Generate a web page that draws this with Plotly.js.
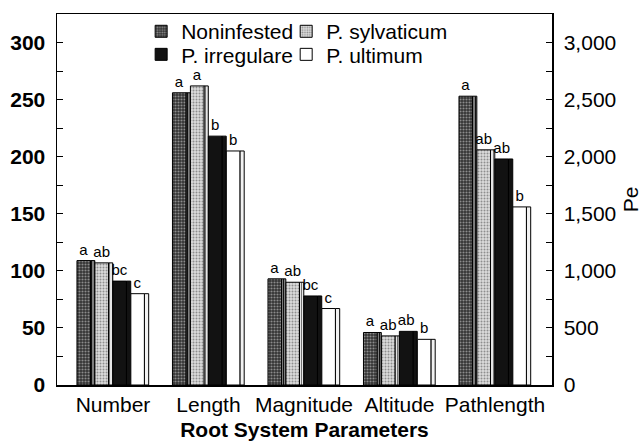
<!DOCTYPE html>
<html>
<head>
<meta charset="utf-8">
<script src="https://cdn.plot.ly/plotly-3.0.1.min.js"></script>
<style>html,body{margin:0;padding:0;background:#fff;}#chart{width:642px;height:442px;}</style>
</head>
<body>
<div id="chart"></div>
<script>
const categories = ['Number', 'Length', 'Magnitude', 'Altitude', 'Pathlength'];
const seriesNames = ['Noninfested', 'P. sylvaticum', 'P. irregulare', 'P. ultimum'];
// first four categories on left axis; Pathlength on right axis (Pe)
const noninfested = [109, 256, 93, 46, 2530];
const sylvaticum  = [107, 262, 90, 43, 2060];
const irregulare  = [91, 218, 78, 47, 1980];
const ultimum     = [80, 205, 67, 40, 1560];
const lettersNon = ['a', 'a', 'a', 'a', 'a'];
const lettersSyl = ['ab', 'a', 'ab', 'ab', 'ab'];
const lettersIrr = ['bc', 'b', 'bc', 'ab', 'ab'];
const lettersUlt = ['c', 'b', 'c', 'b', 'b'];
const leftTicks = [0, 50, 100, 150, 200, 250, 300];
const rightTicks = [0, 500, 1000, 1500, 2000, 2500, 3000];
const rightTickText = ['0', '500', '1,000', '1,500', '2,000', '2,500', '3,000'];

const values = [noninfested, sylvaticum, irregulare, ultimum];
const letters = [lettersNon, lettersSyl, lettersIrr, lettersUlt];
const legendOf = ['legend', 'legend2', 'legend3', 'legend4'];

const frontStyle = [
  {color: '#3c3c3c', pattern: {shape: '.', fgcolor: '#8c8c8c', bgcolor: '#333333', size: 3, solidity: 0.4}},
  {color: '#d6d6d6', pattern: {shape: '.', fgcolor: '#8e8e8e', bgcolor: '#dcdcdc', size: 3, solidity: 0.35}},
  {color: '#121212'},
  {color: '#ffffff'}
];
const sideStyle = [
  {color: '#444', pattern: {shape: '|', fgcolor: '#111', bgcolor: '#8a8a8a', size: 3, solidity: 0.4}},
  {color: '#bbb', pattern: {shape: '|', fgcolor: '#666', bgcolor: '#e6e6e6', size: 3, solidity: 0.3}},
  {color: '#121212'},
  {color: '#f2f2f2'}
];

const pitch = 0.188, frontW = 0.142, sideW = 0.045, start = -0.377;
const traces = [];
for (let s = 0; s < 4; s++) {
  const off = start + s * pitch;
  const v = values[s];
  const parts = [
    {x: categories.slice(0, 4), y: v.slice(0, 4), t: letters[s].slice(0, 4), axis: 'y'},
    {x: categories.slice(4), y: v.slice(4), t: letters[s].slice(4), axis: 'y2'}
  ];
  parts.forEach((p, i) => {
    // side face
    traces.push({
      type: 'bar', x: p.x, y: p.y, yaxis: p.axis,
      offset: off + frontW, width: sideW,
      marker: Object.assign({line: {color: '#000', width: 1}}, sideStyle[s]),
      showlegend: false, hoverinfo: 'skip', legend: legendOf[s]
    });
    // front face
    traces.push({
      type: 'bar', name: seriesNames[s], x: p.x, y: p.y, yaxis: p.axis,
      offset: off, width: frontW,
      text: p.t, textposition: 'outside', cliponaxis: false, constraintext: 'none',
      textfont: {family: 'Liberation Sans, Arial, sans-serif', size: 15, color: '#000'},
      marker: Object.assign({line: {color: '#000', width: 1}}, frontStyle[s]),
      showlegend: i === 0, legendgroup: 'g' + s, legend: legendOf[s]
    });
  });
}

const legendBase = {
  orientation: 'v', xanchor: 'left', yanchor: 'top',
  font: {size: 21, color: '#000'}, bgcolor: 'rgba(0,0,0,0)',
  traceorder: 'normal', tracegroupgap: 0
};
const colX = [0.170, 0.463];
const rowY = [1.005, 0.943];

const layout = {
  width: 642, height: 442,
  margin: {l: 57, r: 90, t: 13, b: 57},
  paper_bgcolor: '#fff', plot_bgcolor: '#fff',
  barmode: 'overlay',
  font: {family: 'Liberation Sans, Arial, sans-serif', color: '#000'},
  showlegend: true,
  legend: Object.assign({}, legendBase, {x: colX[0], y: rowY[0]}),
  legend2: Object.assign({}, legendBase, {x: colX[1], y: rowY[0]}),
  legend3: Object.assign({}, legendBase, {x: colX[0], y: rowY[1]}),
  legend4: Object.assign({}, legendBase, {x: colX[1], y: rowY[1]}),
  xaxis: {
    type: 'category', range: [-0.586, 4.597],
    showline: true, linecolor: '#000', linewidth: 1.5, mirror: true,
    ticks: '', showgrid: false, zeroline: false,
    tickfont: {size: 21, color: '#000'},
    title: {text: 'Root System Parameters', font: {size: 21, weight: 'bold', color: '#000'}, standoff: 7}
  },
  yaxis: {
    range: [0, 325], tickvals: leftTicks,
    showline: true, linecolor: '#000', linewidth: 1.5,
    ticks: 'inside', ticklen: 6, tickcolor: '#000',
    minor: {ticks: 'inside', ticklen: 6, dtick: 25, tickcolor: '#000', showgrid: false},
    showgrid: false, zeroline: false, ticklabelstandoff: 6,
    tickfont: {size: 21, weight: 'bold', color: '#000'}
  },
  yaxis2: {
    overlaying: 'y', side: 'right',
    range: [0, 3250], tickvals: rightTicks, ticktext: rightTickText,
    showline: true, linecolor: '#000', linewidth: 1.5,
    ticks: 'inside', ticklen: 6, tickcolor: '#000',
    minor: {ticks: 'inside', ticklen: 6, dtick: 250, tickcolor: '#000', showgrid: false},
    showgrid: false, zeroline: false, ticklabelstandoff: 6,
    tickfont: {size: 21, color: '#000'},
    title: {text: 'Pe', font: {size: 21, color: '#000'}, standoff: 8}
  }
};

Plotly.newPlot('chart', traces, layout, {displayModeBar: false, staticPlot: true});
</script>
</body>
</html>
